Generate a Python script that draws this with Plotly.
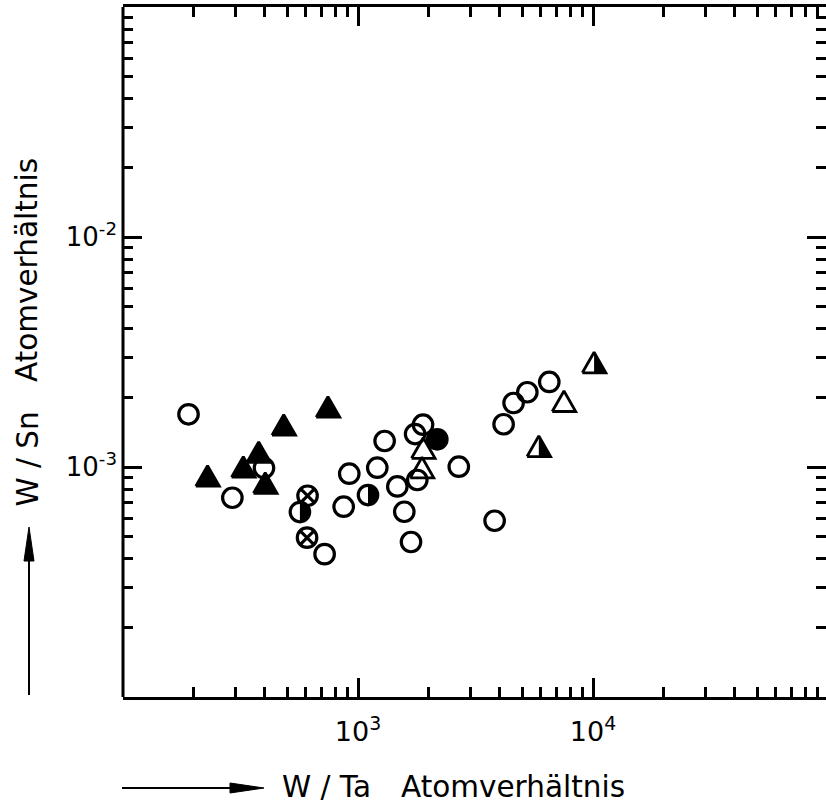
import numpy as np
import plotly.graph_objects as go

# ---------------- data ----------------
# x = W/Ta atomic ratio, y = W/Sn atomic ratio
open_circle_wta = [190, 292, 398, 721, 869, 918, 1208, 1298, 1470, 1574,
                   1681, 1788, 1750, 1891, 2685, 3813, 4165, 4593, 5254, 6516]
open_circle_wsn = [1.695e-3, 7.35e-4, 9.90e-4, 4.18e-4, 6.72e-4, 9.35e-4, 9.93e-4, 1.297e-3, 8.23e-4, 6.39e-4,
                   4.72e-4, 8.78e-4, 1.391e-3, 1.527e-3, 1.003e-3, 5.84e-4, 1.534e-3, 1.898e-3, 2.113e-3, 2.343e-3]
filled_circle_wta = [2175]
filled_circle_wsn = [1.319e-3]
cross_circle_wta = [610, 607]
cross_circle_wsn = [7.50e-4, 4.93e-4]
half_circle_wta = [566, 1103]
half_circle_wsn = [6.37e-4, 7.55e-4]
filled_tri_wta = [483, 745, 378, 325, 229, 403]
filled_tri_wsn = [1.473e-3, 1.764e-3, 1.122e-3, 9.68e-4, 8.84e-4, 8.23e-4]
open_tri_wta = [1896, 1872, 7524]
open_tri_wsn = [1.168e-3, 9.61e-4, 1.866e-3]
half_tri_wta = [5881, 10108]
half_tri_wsn = [1.189e-3, 2.749e-3]

x_tick_vals = [1e3, 1e4]
x_tick_text = ["10<sup>3</sup>", "10<sup>4</sup>"]
y_tick_vals = [1e-3, 1e-2]
y_tick_text = ["10<sup>-3</sup>", "10<sup>-2</sup>"]

# ---------------- layout geometry ----------------
FIG_W, FIG_H = 826, 807
M_L, M_R, M_T, M_B = 123, 0, 7, 110
PLOT_W = FIG_W - M_L - M_R
PLOT_H = FIG_H - M_T - M_B
XR = [2.0, 2.0 + PLOT_W / 235.0]
YR = [-4.0, -1.0]
KX = PLOT_W / (XR[1] - XR[0])   # px per decade
KY = PLOT_H / (YR[1] - YR[0])

def px_x(p):
    return (p - M_L) / PLOT_W

def px_y(p):
    return (FIG_H - M_B - p) / PLOT_H

FONT = "DejaVu Sans"
CIRCLE_SIZE = 19.5
LW = 3.2
TRI_W, TRI_H = 23.5, 20.5


def tri_polys(xs, ys, part):
    px, py = [], []
    for x, y in zip(xs, ys):
        lx, ly = np.log10(x), np.log10(y)
        dx = TRI_W / 2 / KX
        up = 2 * TRI_H / 3 / KY
        dn = TRI_H / 3 / KY
        if part == "full":
            pts = [(lx - dx, ly - dn), (lx + dx, ly - dn), (lx, ly + up), (lx - dx, ly - dn)]
        else:
            pts = [(lx, ly - dn), (lx + dx, ly - dn), (lx, ly + up), (lx, ly - dn)]
        px += [10 ** a for a, _ in pts] + [None]
        py += [10 ** b for _, b in pts] + [None]
    return px, py


def half_circle_polys(xs, ys):
    px, py = [], []
    r = CIRCLE_SIZE / 2
    t = np.linspace(-np.pi / 2, np.pi / 2, 25)
    for x, y in zip(xs, ys):
        lx, ly = np.log10(x), np.log10(y)
        ax = lx + r * np.cos(t) / KX
        ay = ly + r * np.sin(t) / KY
        px += list(10 ** ax) + [10 ** ax[0], None]
        py += list(10 ** ay) + [10 ** ay[0], None]
    return px, py


fig = go.Figure()

# half-filled circle fills
hx, hy = half_circle_polys(half_circle_wta, half_circle_wsn)
fig.add_trace(go.Scatter(x=hx, y=hy, mode="lines", fill="toself", fillcolor="black",
                         line=dict(width=0, color="black"), hoverinfo="skip", showlegend=False))

circle_sets = [
    (open_circle_wta, open_circle_wsn, "circle-open"),
    (cross_circle_wta, cross_circle_wsn, "circle-x-open"),
    (half_circle_wta, half_circle_wsn, "circle-open"),
    (filled_circle_wta, filled_circle_wsn, "circle"),
]
for xs, ys, sym in circle_sets:
    fig.add_trace(go.Scatter(x=xs, y=ys, mode="markers", showlegend=False,
                             marker=dict(symbol=sym, size=CIRCLE_SIZE, color="black",
                                         line=dict(width=LW, color="black"))))

# triangles
for xs, ys, fill in [(filled_tri_wta, filled_tri_wsn, True),
                     (open_tri_wta, open_tri_wsn, False),
                     (half_tri_wta, half_tri_wsn, "half")]:
    if fill == "half":
        fx, fy = tri_polys(xs, ys, "half")
        fig.add_trace(go.Scatter(x=fx, y=fy, mode="lines", fill="toself", fillcolor="black",
                                 line=dict(width=0, color="black"), hoverinfo="skip", showlegend=False))
    tx, ty = tri_polys(xs, ys, "full")
    fig.add_trace(go.Scatter(x=tx, y=ty, mode="lines",
                             fill="toself" if fill is True else "none",
                             fillcolor="black",
                             line=dict(width=LW - 0.4, color="black"),
                             hoverinfo="skip", showlegend=False))

tick_common = dict(
    type="log", showgrid=False, zeroline=False,
    linecolor="black", linewidth=3, mirror="ticks",
    ticks="inside", ticklen=19, tickwidth=2.5, tickcolor="black",
)

x_minor = [m * 10 ** e for e in (2, 3, 4) for m in range(2, 10)]
y_minor = [m * 10 ** e for e in (-4, -3, -2) for m in range(2, 10)]

fig.update_xaxes(range=XR, tickvals=x_tick_vals, ticktext=x_tick_text, ticklabelstandoff=9,
                 showline=True,
                 tickfont=dict(family=FONT, size=27, color="black"),
                 minor=dict(tickvals=x_minor, ticks="inside", ticklen=10, tickwidth=2.5, tickcolor="black"),
                 **tick_common)
fig.update_yaxes(range=YR, tickvals=y_tick_vals, ticktext=y_tick_text, ticklabelstandoff=5,
                 showline=False,
                 tickfont=dict(family=FONT, size=26, color="black"),
                 minor=dict(tickvals=y_minor, ticks="inside", ticklen=10, tickwidth=2.5, tickcolor="black"),
                 **tick_common)

ann = []
title_font = dict(family=FONT, size=29.5, color="black")
# x title
ann.append(dict(text="W / Ta", xref="paper", yref="paper", x=px_x(280), y=px_y(787),
                xanchor="left", yanchor="middle", showarrow=False, font=title_font))
ann.append(dict(text="Atomverhältnis", xref="paper", yref="paper", x=px_x(399), y=px_y(787),
                xanchor="left", yanchor="middle", showarrow=False, font=title_font))
# y title
ann.append(dict(text="W / Sn", xref="paper", yref="paper", x=px_x(27), y=px_y(508),
                xanchor="center", yanchor="bottom", textangle=-90, showarrow=False, font=title_font))
ann.append(dict(text="Atomverhältnis", xref="paper", yref="paper", x=px_x(27), y=px_y(384),
                xanchor="center", yanchor="bottom", textangle=-90, showarrow=False, font=title_font))

shapes = [
    # left spine
    dict(type="line", xref="paper", yref="paper", x0=0, x1=0, y0=0, y1=1,
         line=dict(color="black", width=3), layer="above"),
    # x arrow shaft + head
    dict(type="line", xref="paper", yref="paper", x0=px_x(122), x1=px_x(240), y0=px_y(788), y1=px_y(788),
         line=dict(color="black", width=2)),
    dict(type="path", xref="paper", yref="paper",
         path=f"M {px_x(230)},{px_y(783)} L {px_x(264)},{px_y(788)} L {px_x(230)},{px_y(793)} Z",
         fillcolor="black", line=dict(color="black", width=1)),
    # y arrow shaft + head
    dict(type="line", xref="paper", yref="paper", x0=px_x(29), x1=px_x(29), y0=px_y(695), y1=px_y(555),
         line=dict(color="black", width=2)),
    dict(type="path", xref="paper", yref="paper",
         path=f"M {px_x(24)},{px_y(561)} L {px_x(29)},{px_y(527)} L {px_x(34)},{px_y(561)} Z",
         fillcolor="black", line=dict(color="black", width=1)),
]

fig.update_layout(
    width=FIG_W, height=FIG_H,
    margin=dict(l=M_L, r=M_R, t=M_T, b=M_B, pad=0),
    paper_bgcolor="white", plot_bgcolor="white",
    showlegend=False,
    annotations=ann, shapes=shapes,
    font=dict(family=FONT, color="black"),
)

fig.write_html("out.html")
